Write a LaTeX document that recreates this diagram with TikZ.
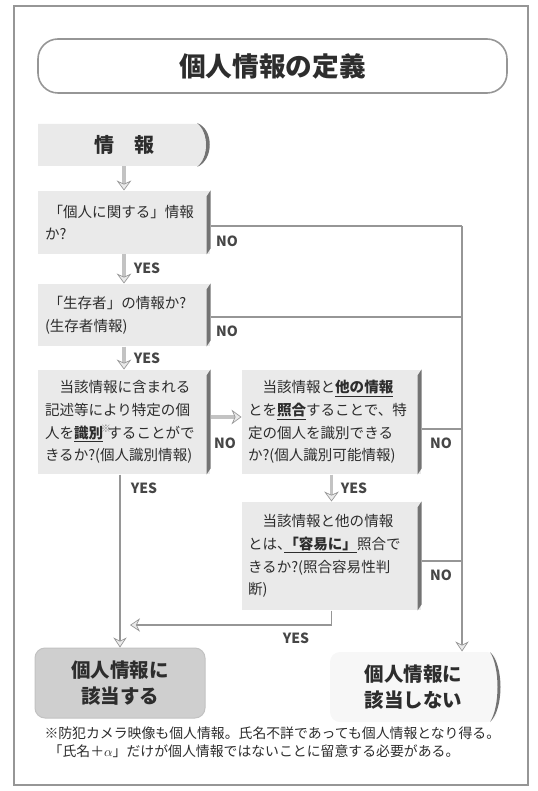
\documentclass[tikz,border=0pt]{standalone}
\usepackage{fontspec}
\setmainfont{Noto Sans CJK JP}
\usetikzlibrary{arrows.meta,calc}

\definecolor{framecol}{RGB}{150,150,150}
\definecolor{boxcol}{RGB}{234,234,234}
\definecolor{barcol}{RGB}{115,115,115}
\definecolor{arrcol}{RGB}{195,195,195}
\definecolor{linecol}{RGB}{150,150,150}
\definecolor{txtcol}{RGB}{45,45,45}
\definecolor{lblcol}{RGB}{70,70,70}

\tikzset{every picture/.style={line width=0.75pt}}
\tikzset{
  qbox/.style={fill=boxcol, inner xsep=5.25pt, inner ysep=0pt, align=left, text=txtcol, font=\fontsize{10.9pt}{17pt}\selectfont},
  titlebox/.style={draw=framecol, line width=1.2pt, rounded corners=15pt, text=txtcol, font=\fontsize{20pt}{24pt}\selectfont\bfseries},
  endbox/.style={rounded corners=7.5pt, align=center, text=txtcol, font=\fontsize{14.6pt}{20pt}\selectfont\bfseries},
  bigarrow/.style={draw=arrcol, line width=2.4pt, -{Stealth[length=7.5pt,width=11pt,inset=2.5pt,line width=0.5pt,color=linecol,fill=boxcol]}},
  thinline/.style={draw=linecol, line width=0.9pt},
  thinarrow/.style={thinline, -{Stealth[length=7.5pt,width=10pt,inset=2.5pt,line width=0.5pt,color=linecol,fill=boxcol]}},
  lbl/.style={inner sep=0.75pt, text=lblcol, font=\fontsize{10.5pt}{12pt}\selectfont\bfseries},
}
\newcommand{\pagebar}[1]{\fill[barcol] ($(#1.north east)+(-4,6)$) -- (#1.north east) -- ($(#1.south east)+(0,-6)$) -- ($(#1.south east)+(-4,0)$) -- cycle;}

\begin{document}
\begin{tikzpicture}[x=0.75pt,y=0.75pt,yscale=-1,xscale=1]
\path[use as bounding box] (0,0) rectangle (538,791);

%Shape: Rectangle [frame]
\draw[framecol, line width=1.5pt] (14,6) rectangle (528,785);

% Title
\node[titlebox, minimum width=351.75pt, minimum height=40.5pt] (title) at (272.5,66) {個人情報の定義};

%Shape: Info box
\fill[boxcol] (38,124) -- (198,124) .. controls (208,131) and (208,159) .. (198,166) -- (38,166) -- cycle;
\fill[barcol] (197,123) .. controls (214,129) and (214,160) .. (197,167) .. controls (209,158) and (209,132) .. cycle;
\node[minimum width=129pt, minimum height=31.5pt, text=txtcol, font=\fontsize{15pt}{18pt}\selectfont\bfseries] (info) at (124,145) {情\hspace{1em}報};

% Question boxes
\node[qbox, minimum width=129pt, minimum height=47.25pt, text width=118.5pt] (q1) at (124,222.5) {\hspace*{.25em}「個人に関する」情報\\か?};
\node[qbox, minimum width=129pt, minimum height=46.5pt, text width=118.5pt] (q2) at (124,315) {\hspace*{.25em}「生存者」の情報か?\\(生存者情報)};
\node[qbox, minimum width=129pt, minimum height=78pt, text width=118.5pt] (q3) at (124,422) {\hspace*{1em}当該情報に含まれる\\記述等により特定の個\\人を\underline{\textbf{識別}}\kern-.15em\textsuperscript{\color{gray}※}\kern-.3em することがで\\きるか?(個人識別情報)};
\node[qbox, minimum width=134.25pt, minimum height=78pt, text width=125.25pt, inner xsep=4.5pt] (q4) at (331.5,422) {\hspace*{1em}当該情報と\underline{\textbf{他の情報}}\\とを\underline{\textbf{照合}}することで、特\\定の個人を識別できる\\か?(個人識別可能情報)};
\node[qbox, minimum width=134.25pt, minimum height=81pt, text width=125.25pt, inner xsep=4.5pt] (q5) at (331.5,556) {\hspace*{1em}当該情報と他の情報\\とは、\kern-.5em\underline{\textbf{「容易に」}}照合で\\きるか?(照合容易性判\\断)};
\pagebar{q1}
\pagebar{q2}
\pagebar{q3}
\pagebar{q4}
\pagebar{q5}

% Result boxes
\node[endbox, fill=gray!38, draw=gray!48, minimum width=127.5pt, minimum height=52.5pt] (yesbox) at (120,683) {個人情報に\\該当する};
\node[endbox, fill=gray!6, minimum width=125.25pt, minimum height=52.5pt] (nobox) at (413.5,687) {個人情報に\\該当しない};
\fill[barcol] (490,652) .. controls (504,665) and (504,709) .. (490,722) .. controls (500,707) and (500,667) .. cycle;

% Coordinates
\coordinate (n1) at (462,226);
\coordinate (n2) at (462,317);
\coordinate (n4) at (462,429);
\coordinate (n5) at (462,561);
\coordinate (y5) at (331.5,625);

%Straight Lines
\draw[bigarrow] (info) -- (q1);
\draw[bigarrow] (q1) -- (q2);
\draw[bigarrow] (q2) -- (q3);
\draw[bigarrow] ([yshift=-3.75pt]q3.east) -- ([yshift=-3.75pt]q4.west);
\draw[bigarrow] (q4) -- (q5);
\draw[thinline] (q1.east |- n1) -- (n1);
\draw[thinline] (q2.east |- n2) -- (n2);
\draw[thinline] (q4.east |- n4) -- (n4);
\draw[thinline] (q5.east |- n5) -- (n5);
\draw[thinarrow] (n1) -- (n1 |- nobox.north);
\draw[thinarrow] (yesbox.north |- q3.south) -- (yesbox.north);
\draw[thinarrow, shorten >=7.5pt] (q5.south) -- (q5.south |- y5) -- (yesbox.north |- y5);

% Text Node
\node[lbl] (no1) at (227,241) {NO};
\node[lbl] (yes1) at (147,268) {YES};
\node[lbl] (no2) at (227,331) {NO};
\node[lbl] (yes2) at (147,358) {YES};
\node[lbl] (no3) at (225,443) {NO};
\node[lbl] (yes3) at (144,488) {YES};
\node[lbl] (no4) at (441,443) {NO};
\node[lbl] (yes4) at (354,488) {YES};
\node[lbl] (no5) at (441,575) {NO};
\node[lbl] (yes5) at (296,638) {YES};

% Footnote
\node[anchor=north west, inner sep=0pt, align=left, text=txtcol, font=\fontsize{10.4pt}{14pt}\selectfont] (note) at (44,726) {※防犯カメラ映像も個人情報。氏名不詳であっても個人情報となり得る。\\\hspace*{.3em}「氏名＋$\alpha$」だけが個人情報ではないことに留意する必要がある。};

\end{tikzpicture}
\end{document}
